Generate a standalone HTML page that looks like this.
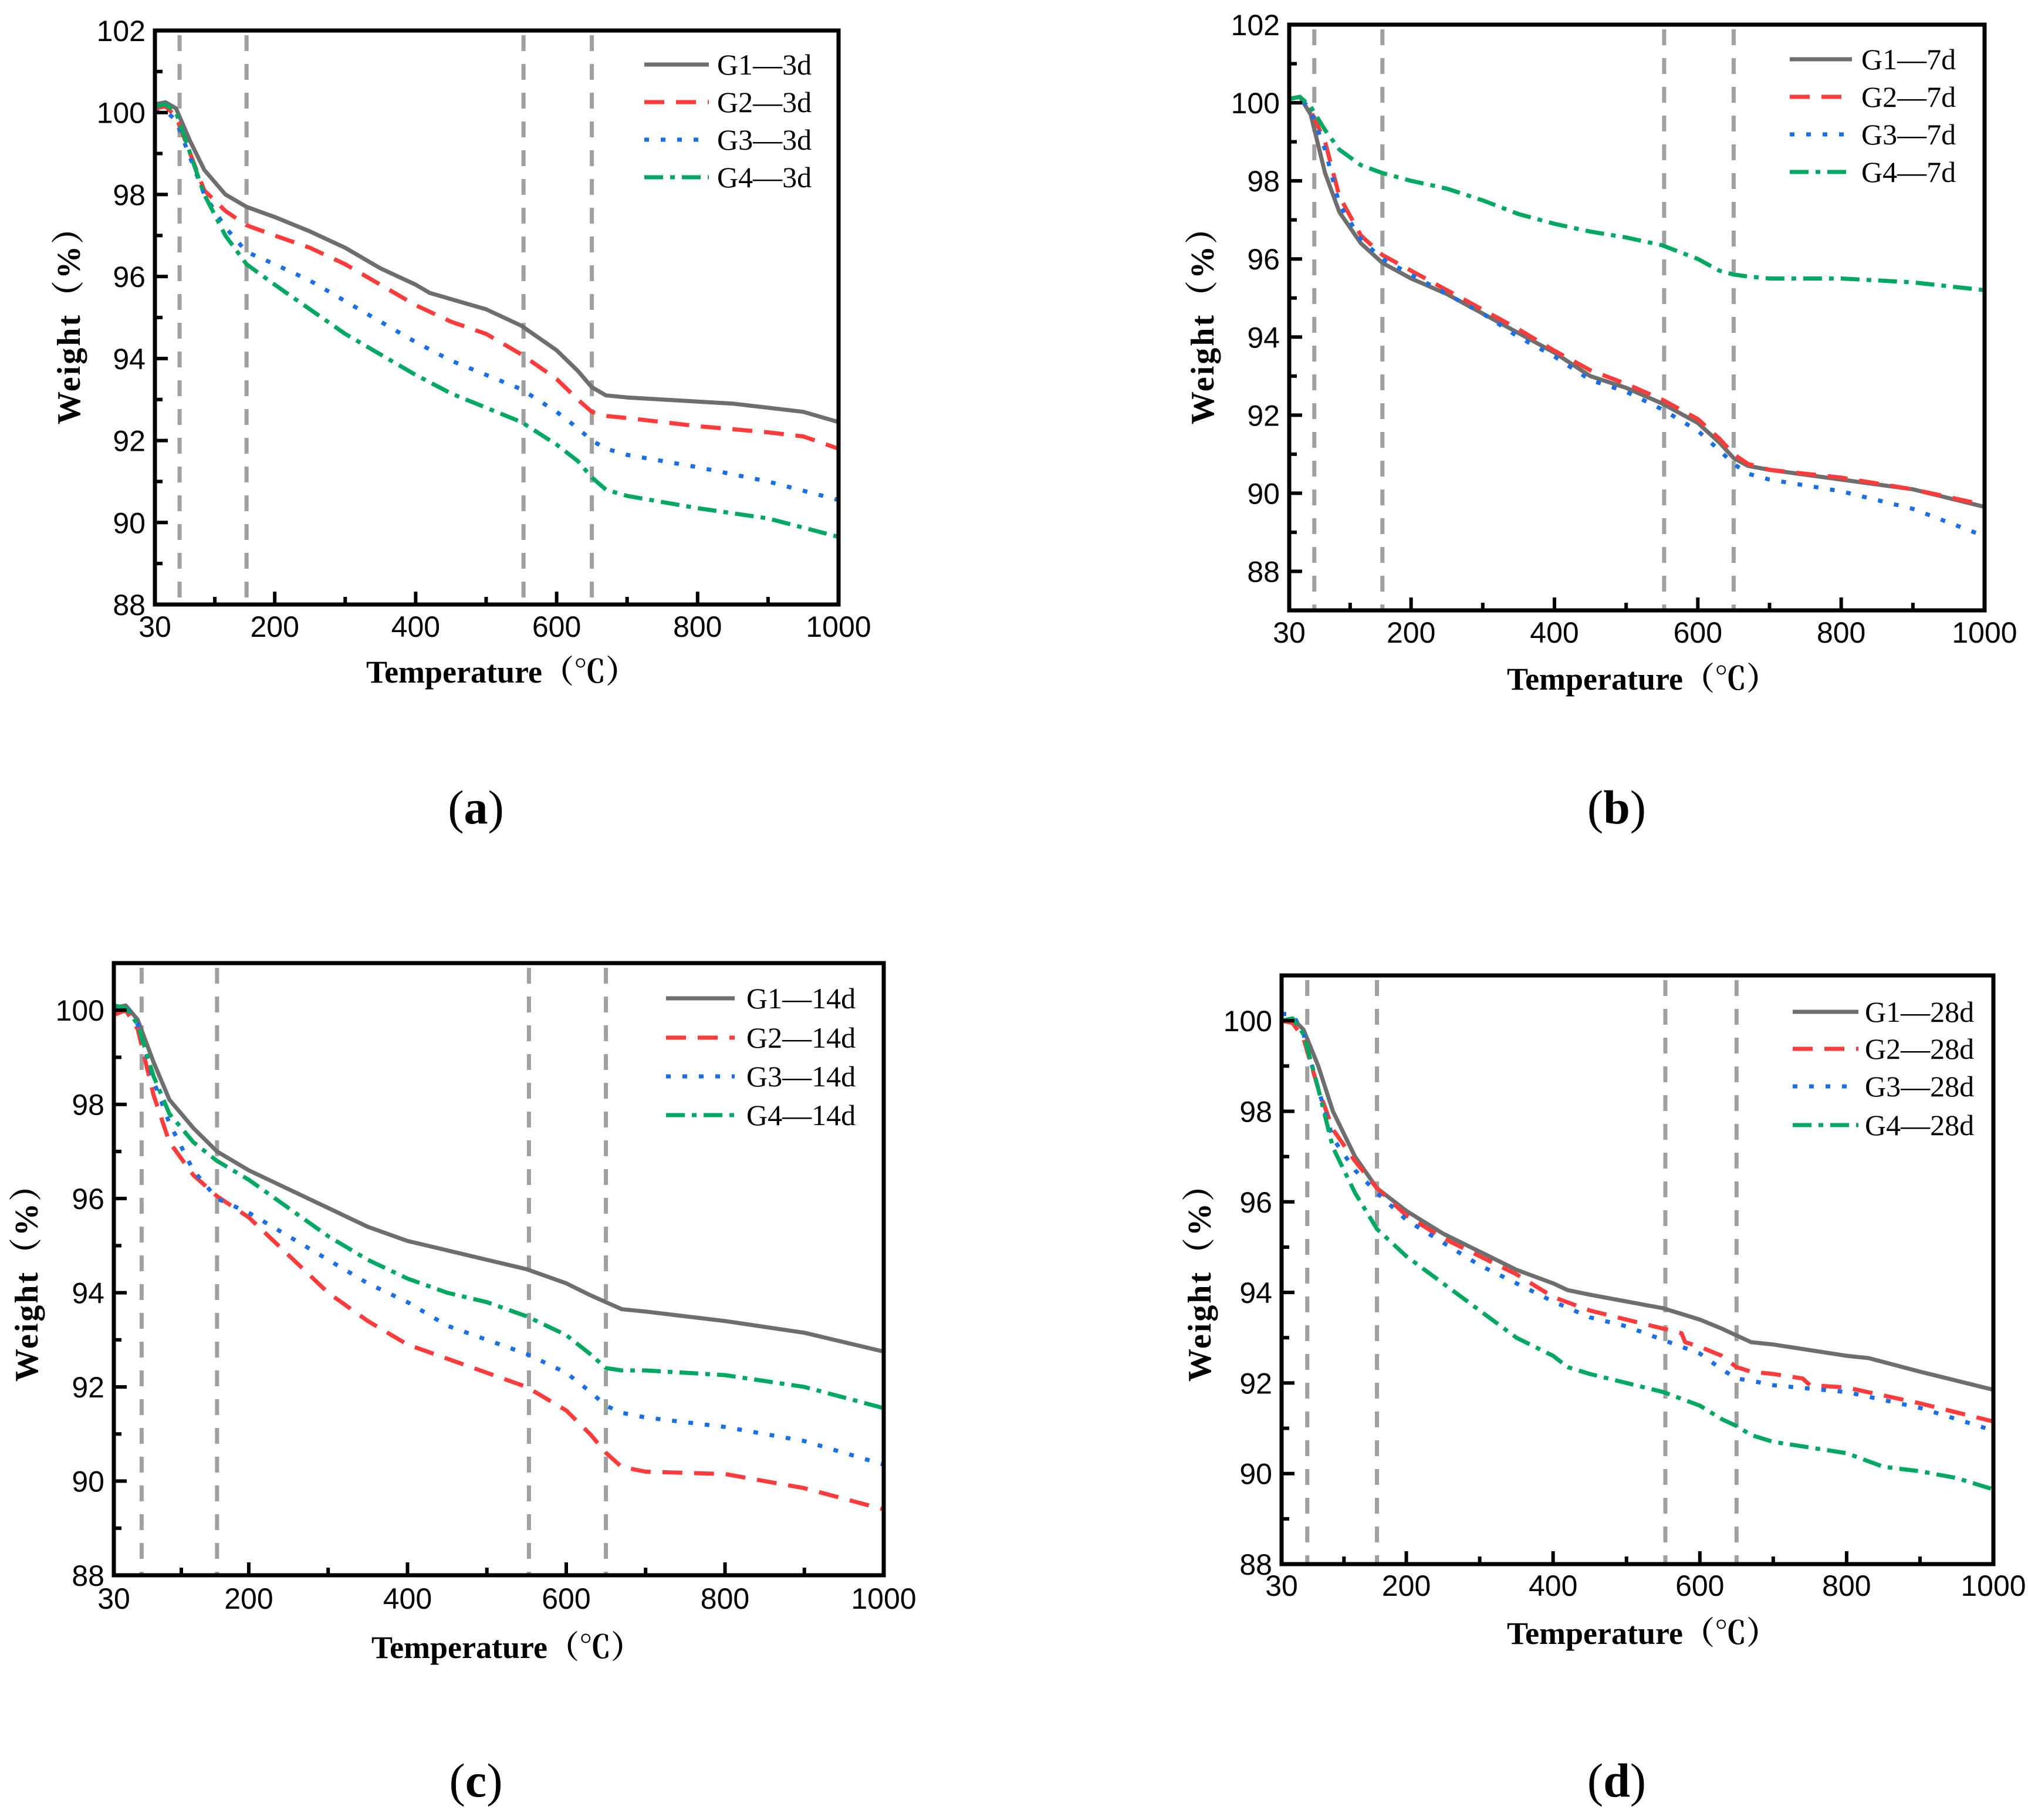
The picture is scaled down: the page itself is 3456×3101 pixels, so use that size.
<!DOCTYPE html>
<html><head><meta charset="utf-8">
<style>
html,body{margin:0;padding:0;background:#fff;}
svg{display:block;}
</style></head>
<body>
<svg id="fig" width="3456" height="3101" viewBox="0 0 3456 3101" xmlns="http://www.w3.org/2000/svg"></svg>
<script>
// ---- data: panel (a) 3d ----
const aG1x=[30,45,60,80,100,130,160,200,250,300,350,400,420,450,500,550,600,630,650,670,700,800,850,900,950,1000];
const aG1y=[100.2,100.25,100.1,99.3,98.6,98.0,97.7,97.45,97.1,96.7,96.2,95.8,95.6,95.45,95.2,94.8,94.2,93.7,93.3,93.1,93.05,92.95,92.9,92.8,92.7,92.45];
const aG2x=[30,45,60,80,100,130,160,200,250,300,350,400,450,500,550,600,630,650,670,700,800,900,950,1000];
const aG2y=[100.1,100.15,99.9,99.0,98.1,97.6,97.25,97.0,96.7,96.3,95.8,95.3,94.9,94.6,94.1,93.5,93.0,92.7,92.6,92.55,92.35,92.2,92.1,91.8];
const aG3x=[30,45,60,80,100,130,160,200,250,300,350,400,450,500,550,600,630,650,670,700,800,900,1000];
const aG3y=[100.0,100.05,99.8,98.9,98.0,97.2,96.6,96.3,95.9,95.4,94.9,94.4,93.95,93.6,93.25,92.7,92.3,92.0,91.8,91.65,91.35,91.0,90.55];
const aG4x=[30,45,60,80,100,130,160,200,250,300,350,400,450,500,550,600,630,650,670,700,800,900,1000];
const aG4y=[100.15,100.2,100.0,99.0,98.0,97.0,96.3,95.8,95.2,94.6,94.1,93.6,93.15,92.8,92.45,91.9,91.5,91.1,90.8,90.65,90.35,90.1,89.65];
// ---- panel (b) 7d ----
const bX=[30,45,60,80,100,130,160,200,250,300,350,400,450,500,550,600,630,650,670,700,800,900,1000];
const bG1y=[100.1,100.15,99.7,98.2,97.2,96.4,95.9,95.5,95.1,94.6,94.1,93.6,93.0,92.7,92.3,91.8,91.3,90.9,90.7,90.6,90.35,90.1,89.65];
const bG2y=[100.1,100.15,99.8,99.0,97.6,96.6,96.1,95.7,95.2,94.7,94.2,93.65,93.15,92.8,92.4,91.9,91.4,91.0,90.75,90.6,90.4,90.1,89.7];
const bG3y=[100.1,100.15,99.8,98.8,97.4,96.5,96.0,95.6,95.1,94.6,94.0,93.5,92.9,92.6,92.15,91.6,91.1,90.75,90.5,90.35,90.05,89.6,88.9];
const bG4y=[100.1,100.15,99.9,99.3,98.8,98.4,98.2,98.0,97.8,97.5,97.15,96.9,96.7,96.55,96.35,96.0,95.7,95.6,95.55,95.5,95.5,95.4,95.2];
// ---- panel (c) 14d ----
const cX=[30,45,60,80,100,130,160,200,250,300,350,400,450,500,550,600,630,650,670,700,800,900,1000];
const cG1y=[100.05,100.1,99.8,98.9,98.1,97.5,97.0,96.6,96.2,95.8,95.4,95.1,94.9,94.7,94.5,94.2,93.95,93.8,93.65,93.6,93.4,93.15,92.75];
const cG2y=[99.9,100.0,99.6,98.2,97.2,96.5,96.05,95.6,94.8,94.0,93.4,92.9,92.6,92.3,92.0,91.5,91.0,90.6,90.3,90.2,90.15,89.85,89.4];
const cG3y=[100.05,100.1,99.7,98.5,97.6,96.6,96.0,95.7,95.2,94.7,94.2,93.8,93.3,93.0,92.7,92.3,91.9,91.6,91.45,91.35,91.15,90.85,90.35];
const cG4y=[100.1,100.05,99.7,98.6,97.8,97.2,96.8,96.4,95.8,95.2,94.7,94.3,94.0,93.8,93.5,93.1,92.7,92.4,92.35,92.35,92.25,92.0,91.55];
// ---- panel (d) 28d ----
const dG1x=[30,45,60,80,100,130,160,200,250,300,350,400,420,450,500,550,600,630,650,670,700,800,830,900,1000];
const dG1y=[100.0,100.05,99.8,99.0,98.0,97.0,96.3,95.8,95.3,94.9,94.5,94.2,94.05,93.95,93.8,93.65,93.4,93.2,93.05,92.9,92.85,92.6,92.55,92.25,91.85];
const dG2x=[30,45,60,80,100,130,160,200,250,300,350,400,450,500,550,575,580,600,630,650,670,700,740,750,800,900,1000];
const dG2y=[100.0,99.95,99.6,98.5,97.6,96.9,96.3,95.7,95.2,94.8,94.4,93.9,93.6,93.4,93.2,93.1,92.9,92.8,92.6,92.35,92.25,92.2,92.1,91.95,91.9,91.55,91.15];
const dG3x=[30,45,60,80,100,130,160,200,250,300,350,400,450,500,550,600,630,650,670,700,800,900,1000];
const dG3y=[100.15,100.15,99.7,98.5,97.4,96.7,96.2,95.6,95.1,94.6,94.2,93.8,93.45,93.25,92.95,92.65,92.3,92.1,92.05,91.95,91.8,91.45,90.95];
const dG4x=[30,45,60,80,100,130,160,200,250,300,350,400,420,450,500,550,600,630,650,670,700,800,850,900,950,1000];
const dG4y=[100.0,100.05,99.7,98.5,97.2,96.2,95.4,94.8,94.2,93.6,93.0,92.6,92.35,92.2,92.0,91.8,91.5,91.2,91.05,90.85,90.7,90.45,90.15,90.05,89.9,89.65];
// ---- axis ticks / markers ----
const xTickLabels=[30,200,400,600,800,1000];
const xMinorTicks=[115,300,500,700,900];
const vLines=[65,160,553,650];
const seriesNames=["G1","G2","G3","G4"];

const NS="http://www.w3.org/2000/svg";
const svg=document.getElementById('fig');
function mk(tag,attrs,parent){const e=document.createElementNS(NS,tag);for(const k in attrs)e.setAttribute(k,attrs[k]);(parent||svg).appendChild(e);return e;}

const styles=[
 {stroke:"#6e6e6e",dash:""},
 {stroke:"#ff3b3b",dash:"34 20"},
 {stroke:"#1a6fe6",dash:"8 20"},
 {stroke:"#00a862",dash:"32 12 8 12"}
];

const panels=[
 {id:"a",L:264,R:1429,T:52,B:1030,ymin:88,ymax:102,suffix:"3d",series:[[aG1x,aG1y],[aG2x,aG2y],[aG3x,aG3y],[aG4x,aG4y]],
  xlabY:1085,xtitle:[855,1163],ytitle:[118,540],lab:[811,1403],leg:{x1:1098,x2:1208,tx:1222,ys:[110,174,238,302]}},
 {id:"b",L:2197,R:3382,T:42,B:1040,ymin:87,ymax:102,suffix:"7d",series:[[bX,bG1y],[bX,bG2y],[bX,bG3y],[bX,bG4y]],
  xlabY:1095,xtitle:[2799,1175],ytitle:[2050,540],lab:[2755,1403],leg:{x1:3050,x2:3156,tx:3172,ys:[101,165,229,293]}},
 {id:"c",L:194,R:1506,T:1641,B:2684,ymin:88,ymax:101,suffix:"14d",series:[[cX,cG1y],[cX,cG2y],[cX,cG3y],[cX,cG4y]],
  xlabY:2741,xtitle:[864,2825],ytitle:[46,2171],lab:[811,3061],leg:{x1:1135,x2:1252,tx:1272,ys:[1701,1768,1834,1900]}},
 {id:"d",L:2184,R:3397,T:1662,B:2665,ymin:88,ymax:101,suffix:"28d",series:[[dG1x,dG1y],[dG2x,dG2y],[dG3x,dG3y],[dG4x,dG4y]],
  xlabY:2719,xtitle:[2799,2801],ytitle:[2045,2171],lab:[2755,3061],leg:{x1:3055,x2:3167,tx:3178,ys:[1724,1787,1851,1917]}}
];

panels.forEach(p=>{
  const g=mk('g',{});
  
  
  const sx=v=>p.L+(v-30)/(1000-30)*(p.R-p.L);
  const sy=v=>p.B-(v-p.ymin)/(p.ymax-p.ymin)*(p.B-p.T);
  vLines.forEach(v=>{
    const l=mk('line',{x1:sx(v),x2:sx(v),y1:p.T+8,y2:p.B-2,stroke:"#a0a0a0","stroke-width":7,"stroke-dasharray":"27 22"},g);
    
    
  });
  p.series.forEach((s,i)=>{
    let d="";
    s[0].forEach((x,j)=>{d+=(j?"L":"M")+sx(x).toFixed(1)+","+sy(s[1][j]).toFixed(1);});
    const path=mk('path',{d:d,fill:"none",stroke:styles[i].stroke,"stroke-width":7,"stroke-dasharray":styles[i].dash,"stroke-linejoin":"round"},g);
    
    
  });
  const fr=mk('rect',{x:p.L,y:p.T,width:p.R-p.L,height:p.B-p.T,fill:"none",stroke:"#000","stroke-width":7},g);
  
  
  xTickLabels.forEach(v=>{
    if(v!==30&&v!==1000) mk('line',{x1:sx(v),x2:sx(v),y1:p.B,y2:p.B-22,stroke:"#000","stroke-width":6},g);
    const t=mk('text',{x:sx(v),y:p.xlabY,"text-anchor":"middle","font-family":"Liberation Sans, sans-serif","font-size":50},g);
    t.textContent=v;
    
    
  });
  xMinorTicks.forEach(v=>{mk('line',{x1:sx(v),x2:sx(v),y1:p.B,y2:p.B-13,stroke:"#000","stroke-width":6},g);});
  for(let v=Math.ceil(p.ymin);v<=p.ymax;v++){
    const major=(v%2===0);
    if(v>p.ymin&&v<p.ymax) mk('line',{x1:p.L,x2:p.L+(major?22:13),y1:sy(v),y2:sy(v),stroke:"#000","stroke-width":6},g);
    if(major){
      const t=mk('text',{x:p.L-16,y:sy(v)+18,"text-anchor":"end","font-family":"Liberation Sans, sans-serif","font-size":50},g);
      t.textContent=v;
      
      
    }
  }
  const xt=mk('text',{x:p.xtitle[0],y:p.xtitle[1],"text-anchor":"middle","font-family":"Liberation Serif, Noto Serif CJK SC, serif","font-size":54,"font-weight":"bold"},g);
  xt.textContent="Temperature（℃）";
  
  
  const yt=mk('text',{x:0,y:0,"text-anchor":"middle","font-family":"Liberation Serif, Noto Serif CJK SC, serif","font-size":56,"font-weight":"bold","letter-spacing":3,transform:`translate(${p.ytitle[0]+18},${p.ytitle[1]}) rotate(-90)`},g);
  yt.textContent="Weight（%）";
  
  
  seriesNames.forEach((n,i)=>{
    const y=p.leg.ys[i];
    const ll=mk('line',{x1:p.leg.x1,x2:p.leg.x2,y1:y,y2:y,stroke:styles[i].stroke,"stroke-width":7,"stroke-dasharray":styles[i].dash},g);
    
    
    const t=mk('text',{x:p.leg.tx,y:y+17,"font-family":"Liberation Serif, serif","font-size":50},g);
    t.textContent=n+"—"+p.suffix;
    
    
  });
  const lb=mk('text',{x:p.lab[0],y:p.lab[1],"text-anchor":"middle","font-family":"Liberation Serif, serif","font-size":82},g);
  lb.innerHTML='(<tspan font-weight="bold">'+p.id+'</tspan>)';
  
  
});
</script>
</body></html>
